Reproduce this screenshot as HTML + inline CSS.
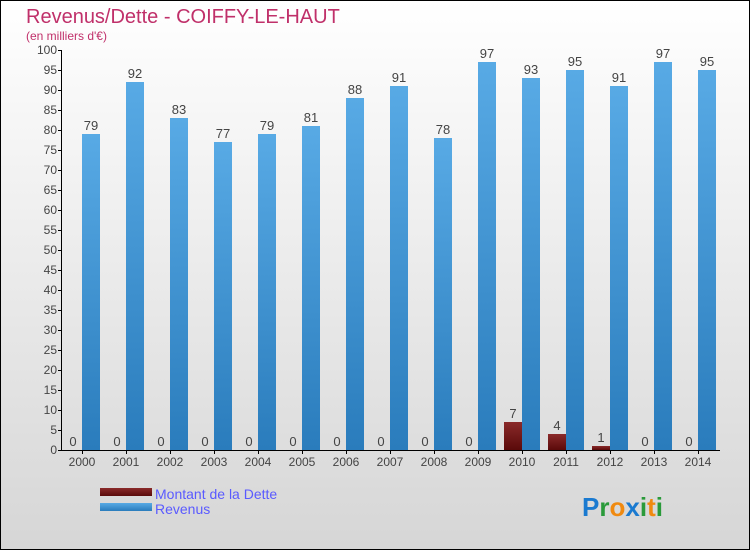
<!DOCTYPE html>
<html><head><meta charset="utf-8"><style>
body{margin:0;width:750px;height:550px;overflow:hidden;font-family:"Liberation Sans",sans-serif}
</style></head><body>
<svg width="750" height="550" xmlns="http://www.w3.org/2000/svg">
<defs>
<linearGradient id="bg" x1="0" y1="0" x2="0" y2="1"><stop offset="0" stop-color="#ffffff"/><stop offset="1" stop-color="#d6d6d6"/></linearGradient>
<linearGradient id="blue" x1="0" y1="0" x2="0" y2="1"><stop offset="0" stop-color="#58aae5"/><stop offset="1" stop-color="#2a7cbc"/></linearGradient>
<linearGradient id="red" x1="0" y1="0" x2="0" y2="1"><stop offset="0" stop-color="#8a2a2a"/><stop offset="1" stop-color="#5a0a0a"/></linearGradient>
</defs>
<rect x="0.5" y="0.5" width="749" height="549" fill="url(#bg)" stroke="#000"/>
<text x="26" y="23" font-size="20" fill="#c0306a">Revenus/Dette - COIFFY-LE-HAUT</text>
<text x="26" y="40" font-size="12" fill="#c0306a">(en milliers d'€)</text>
<g id="axes"></g>
<g id="bars"></g>
<g>
<rect x="100" y="488" width="52" height="8" fill="url(#red)"/>
<text x="155" y="499" font-size="14" fill="#5a5aff">Montant de la Dette</text>
<rect x="100" y="503" width="52" height="8" fill="url(#blue)"/>
<text x="155" y="514" font-size="14" fill="#5a5aff">Revenus</text>
</g>
<text x="582" y="516" font-size="26" font-weight="bold"><tspan fill="#1a7ad0">P</tspan><tspan fill="#2a9a3a">r</tspan><tspan fill="#f08a10">o</tspan><tspan fill="#1a7ad0">x</tspan><tspan fill="#2a9a3a">i</tspan><tspan fill="#f08a10">t</tspan><tspan fill="#2a9a3a">i</tspan></text>
</svg>
<script>
const years=["2000","2001","2002","2003","2004","2005","2006","2007","2008","2009","2010","2011","2012","2013","2014"];
const dette=[0,0,0,0,0,0,0,0,0,0,7,4,1,0,0];
const revenus=[79,92,83,77,79,81,88,91,78,97,93,95,91,97,95];
const yTicks=[0,5,10,15,20,25,30,35,40,45,50,55,60,65,70,75,80,85,90,95,100];
const NS="http://www.w3.org/2000/svg";
const y=v=>450-v*4;
const x=i=>82+44*i;
const ax=document.getElementById('axes'),bs=document.getElementById('bars');
function mk(tag,attrs,parent,txt){const e=document.createElementNS(NS,tag);for(const k in attrs)e.setAttribute(k,attrs[k]);if(txt!==undefined)e.textContent=txt;parent.appendChild(e);return e;}
let l=mk('line',{x1:61.5,y1:50,x2:61.5,y2:450,stroke:'#000'},ax);


l=mk('line',{x1:61,y1:450.5,x2:720,y2:450.5,stroke:'#000'},ax);


yTicks.forEach(t=>{
 const tk=mk('line',{x1:58,x2:62,y1:y(t)+.5,y2:y(t)+.5,stroke:'#000'},ax);
 
 
 const tl=mk('text',{x:57,y:y(t)+4,'font-size':12,'text-anchor':'end',fill:'#444'},ax,t);
 
 
});
years.forEach((yr,i)=>{
 const c=x(i);
 const tk=mk('line',{x1:c+.5,x2:c+.5,y1:450,y2:454,stroke:'#000'},ax);
 
 
 const tl=mk('text',{x:c,y:466,'font-size':12,'text-anchor':'middle',fill:'#444'},ax,yr);
 
 
 const d=dette[i];
 const r1=mk('rect',{x:c-18,y:y(d),width:18,height:d*4,fill:'url(#red)'},bs);
 
 
 const t1=mk('text',{x:c-9,y:y(d)-4,'font-size':13,'text-anchor':'middle',fill:'#444'},bs,d);
 
 
 const r=revenus[i];
 const r2=mk('rect',{x:c,y:y(r),width:18,height:r*4,fill:'url(#blue)'},bs);
 
 
 const t2=mk('text',{x:c+9,y:y(r)-4,'font-size':13,'text-anchor':'middle',fill:'#444'},bs,r);
 
 
});
</script>
</body></html>
